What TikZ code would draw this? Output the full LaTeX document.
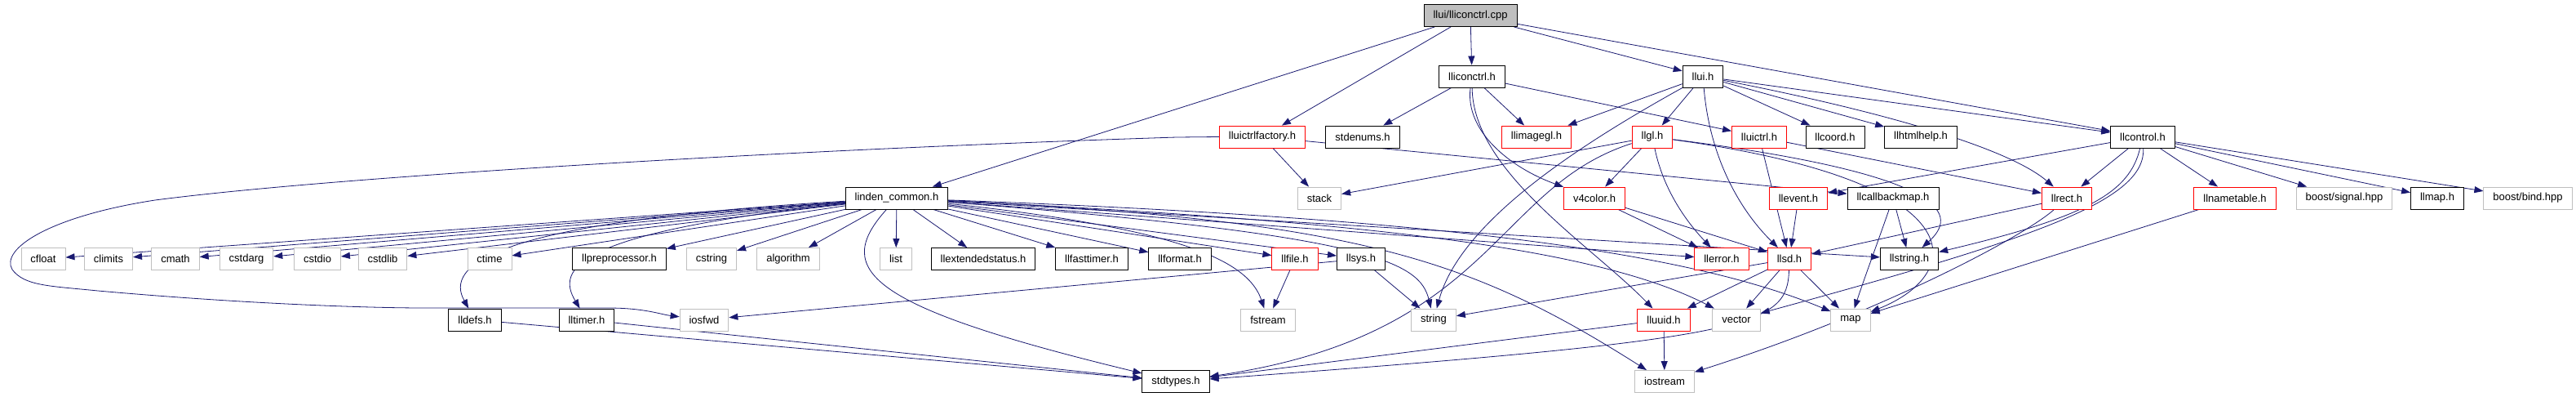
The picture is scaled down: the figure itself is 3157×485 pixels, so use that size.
\documentclass[tikz,border=0pt]{standalone}
\usepackage{fontspec}
\setmainfont{Liberation Sans}
\usetikzlibrary{arrows.meta}
\definecolor{edgeblue}{RGB}{25,25,112}
\definecolor{sysgray}{RGB}{191,191,191}
\pgfdeclarelayer{edges}
\pgfsetlayers{edges,main}
\tikzset{
	box/.style={rectangle, draw, fill=white, line width=0.9pt, minimum height=27, inner xsep=11.5, inner ysep=0, font=\fontsize{13}{15}\selectfont},
	hdr/.style={box, draw=black},
	hdrred/.style={box, draw=red},
	sysinc/.style={box, draw=sysgray},
	rootfile/.style={box, draw=black, fill=sysgray},
	dep/.style={draw=edgeblue, line width=0.8pt, -{Triangle[length=11pt,width=8pt]}}
}

\begin{document}
\begin{tikzpicture}[x=1pt, y=-1pt]
			%%%%% START %%%%%
			\useasboundingbox (0,0) rectangle (3157,485);
			
			\node[rootfile] (cpp) at (1802,19) {llui/lliconctrl.cpp};
			
			\node[hdr] (iconh) at (1804,93.5) {lliconctrl.h};
			\node[hdr] (uih) at (2087,93.5) {llui.h};
			
			\node[hdrred] (ctrlfactory) at (1547,167.5) {lluictrlfactory.h};
			\node[hdr] (stdenums) at (1670,167.5) {stdenums.h};
			\node[hdrred] (imagegl) at (1883,167.5) {llimagegl.h};
			\node[hdrred] (gl) at (2025,167.5) {llgl.h};
			\node[hdrred] (uictrl) at (2156,167.5) {lluictrl.h};
			\node[hdr] (coord) at (2249,167.5) {llcoord.h};
			\node[hdr] (htmlhelp) at (2354,167.5) {llhtmlhelp.h};
			\node[hdr] (control) at (2626,167.5) {llcontrol.h};
			
			\node[hdr] (linden) at (1099,242.5) {linden\_common.h};
			\node[sysinc] (stack) at (1617,242.5) {stack};
			\node[hdrred] (vcolor) at (1954,242.5) {v4color.h};
			\node[hdrred] (event) at (2204,242.5) {llevent.h};
			\node[hdr] (callbackmap) at (2320,242.5) {llcallbackmap.h};
			\node[hdrred] (rect) at (2533,242.5) {llrect.h};
			\node[hdrred] (nametable) at (2739,242.5) {llnametable.h};
			\node[sysinc] (bsignal) at (2873,242.5) {boost/signal.hpp};
			\node[hdr] (lmap) at (2987,242.5) {llmap.h};
			\node[sysinc] (bbind) at (3098,242.5) {boost/bind.hpp};
			
			\node[sysinc] (cfloat) at (53,317) {cfloat};
			\node[sysinc] (climits) at (133,317) {climits};
			\node[sysinc] (cmath) at (215,317) {cmath};
			\node[sysinc] (cstdarg) at (302,317) {cstdarg};
			\node[sysinc] (cstdio) at (389,317) {cstdio};
			\node[sysinc] (cstdlib) at (469,317) {cstdlib};
			\node[sysinc] (ctime) at (600,317) {ctime};
			\node[hdr] (preproc) at (759,317) {llpreprocessor.h};
			\node[sysinc] (cstring) at (872,317) {cstring};
			\node[sysinc] (algorithm) at (966,317) {algorithm};
			\node[sysinc] (list) at (1098,317) {list};
			\node[hdr] (extstatus) at (1205,317) {llextendedstatus.h};
			\node[hdr] (fasttimer) at (1338,317) {llfasttimer.h};
			\node[hdr] (format) at (1446,317) {llformat.h};
			\node[hdrred] (file) at (1587,317) {llfile.h};
			\node[hdr] (sys) at (1668,317) {llsys.h};
			\node[hdrred] (error) at (2110,317) {llerror.h};
			\node[hdrred] (sd) at (2193,317) {llsd.h};
			\node[hdr] (lstring) at (2340,317) {llstring.h};
			
			\node[hdr] (defs) at (582,391.5) {lldefs.h};
			\node[hdr] (timer) at (719,391.5) {lltimer.h};
			\node[sysinc] (iosfwd) at (863,391.5) {iosfwd};
			\node[sysinc] (fstream) at (1554,391.5) {fstream};
			\node[sysinc] (string) at (1757,391.5) {string};
			\node[hdrred] (uuid) at (2039,391.5) {lluuid.h};
			\node[sysinc] (vector) at (2128,391.5) {vector};
			\node[sysinc] (map) at (2268,391.5) {map};
			
			\node[hdr] (stdtypes) at (1441,467) {stdtypes.h};
			\node[sysinc] (iostream) at (2040,467) {iostream};
			
			\begin{pgfonlayer}{edges}
			% lliconctrl.cpp
			\draw[dep] (cpp) -- (linden);
			\draw[dep] (cpp) -- (ctrlfactory);
			\draw[dep] (cpp) -- (iconh);
			\draw[dep] (cpp) -- (uih);
			\draw[dep] (cpp) -- (control);
			
			% lliconctrl.h
			\draw[dep] (iconh) -- (stdenums);
			\draw[dep] (iconh) -- (imagegl);
			\draw[dep] (iconh) -- (uictrl);
			\draw[dep] (iconh) .. controls (1795,160) and (1850,205) .. (vcolor);
			\draw[dep] (iconh) .. controls (1805,210) and (1950,300) .. (uuid);
			
			% llui.h
			\draw[dep] (uih) -- (imagegl);
			\draw[dep] (uih) -- (gl);
			\draw[dep] (uih) -- (coord);
			\draw[dep] (uih) -- (htmlhelp);
			\draw[dep] (uih) -- (control);
			\draw[dep] (uih) .. controls (2095,190) and (2130,255) .. (sd);
			\draw[dep] (uih) .. controls (2300,135) and (2460,180) .. (rect);
			\draw[dep] (uih) .. controls (1940,175) and (1790,270) .. (string);
			
			% lluictrlfactory.h
			\draw[dep] (ctrlfactory) -- (stack);
			\draw[dep] (ctrlfactory) -- (callbackmap);
			\draw[dep] (ctrlfactory.west) -- (1442,168) .. controls (1000,182) and (420,215) .. (190,245)
				.. controls (60,265) and (0,305) .. (15,330) .. controls (30,350) and (60,350) .. (120,356)
				.. controls (300,372) and (450,377) .. (520,377) -- (745,377) .. controls (790,377) and (810,385) .. (iosfwd);
			
			% llgl.h
			\draw[dep] (gl) -- (stack);
			\draw[dep] (gl) -- (vcolor);
			\draw[dep] (gl) .. controls (2040,240) and (2075,280) .. (error);
			\draw[dep] (gl) .. controls (1830,230) and (1830,410) .. (stdtypes);
			\draw[dep] (gl) .. controls (2400,215) and (2398,265) .. (lstring);
			\draw[dep] (gl) .. controls (2425,222) and (2410,335) .. (map);
			
			% lluictrl.h
			\draw[dep] (uictrl) -- (sd);
			\draw[dep] (uictrl) -- (rect);
			
			% llcontrol.h
			\draw[dep] (control) -- (event);
			\draw[dep] (control) -- (rect);
			\draw[dep] (control) -- (nametable);
			\draw[dep] (control) -- (bsignal);
			\draw[dep] (control) -- (lmap);
			\draw[dep] (control) -- (bbind);
			\draw[dep] (control) .. controls (2610,235) and (2560,265) .. (lstring);
			\draw[dep] (control) .. controls (2630,245) and (2500,290) .. (vector);
			
			% linden_common.h
			\foreach \tgt in {cfloat,climits,cmath,cstdarg,cstdio,cstdlib,ctime,preproc,cstring,algorithm,list,extstatus,fasttimer,format,file,sys,error,lstring}
				\draw[dep] (linden) -- (\tgt);
			\draw[dep] (linden) .. controls (600,272) and (545,325) .. (defs);
			\draw[dep] (linden) .. controls (700,285) and (682,330) .. (timer);
			\draw[dep] (linden) .. controls (1020,330) and (1060,375) .. (stdtypes);
			\draw[dep] (linden) .. controls (1450,280) and (1530,320) .. (fstream);
			\draw[dep] (linden) .. controls (1680,288) and (1740,320) .. (string);
			\draw[dep] (linden) .. controls (1660,270) and (1800,315) .. (iostream);
			\draw[dep] (linden) .. controls (1650,270) and (1950,300) .. (vector);
			\draw[dep] (linden) .. controls (1700,265) and (2050,300) .. (map);
			
			% middle row
			\draw[dep] (vcolor) -- (error);
			\draw[dep] (vcolor) -- (sd);
			\draw[dep] (event) -- (sd);
			\draw[dep] (callbackmap) -- (lstring);
			\draw[dep] (callbackmap) .. controls (2300,300) and (2285,340) .. (map);
			\draw[dep] (rect) -- (sd);
			\draw[dep] (rect) .. controls (2480,290) and (2300,385) .. (iostream);
			\draw[dep] (nametable) -- (map);
			
			% lower rows
			\draw[dep] (file) -- (fstream);
			\draw[dep] (sys) -- (string);
			\draw[dep] (sys) -- (iosfwd);
			\draw[dep] (sd) -- (uuid);
			\draw[dep] (sd) -- (string);
			\draw[dep] (sd) -- (vector);
			\draw[dep] (sd) -- (map);
			\draw[dep] (sd) .. controls (2190,400) and (2150,415) .. (stdtypes);
			\draw[dep] (defs) -- (stdtypes);
			\draw[dep] (timer) -- (stdtypes);
			\draw[dep] (uuid) -- (stdtypes);
			\draw[dep] (uuid) -- (iostream);
			\end{pgfonlayer}
			
			%%%%% END %%%%%
\end{tikzpicture}
\end{document}
